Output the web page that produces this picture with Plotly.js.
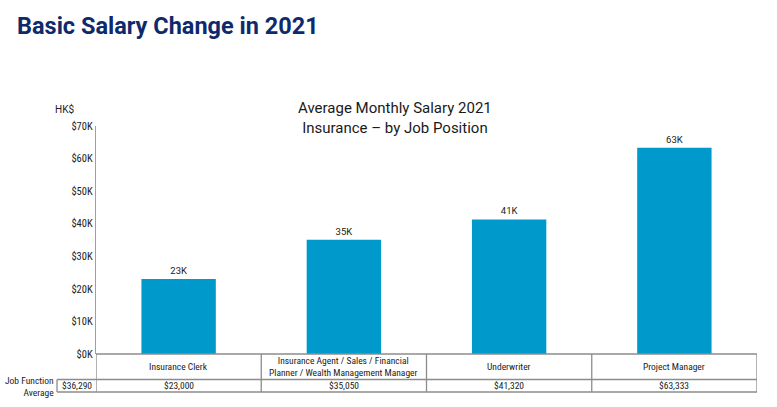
<!DOCTYPE html>
<html>
<head>
<meta charset="utf-8">
<script src="https://cdn.plot.ly/plotly-3.0.1.min.js"></script>
<style>
  html, body { margin: 0; padding: 0; background: #ffffff; }
  #chart { width: 777px; height: 407px; }
</style>
</head>
<body>
<div id="chart"></div>
<script>
// ---- data ----
const categories = [
  "Insurance Clerk",
  "Insurance Agent / Sales / Financial<br>Planner / Wealth Management Manager",
  "Underwriter",
  "Project Manager"
];
const salaries = [23000, 35050, 41320, 63333];
const barLabels = ["23K", "35K", "41K", "63K"];
const jobFunctionAverage = 36290;
const tickVals = [0, 10000, 20000, 30000, 40000, 50000, 60000, 70000];
const tickText = ["$0K", "$10K", "$20K", "$30K", "$40K", "$50K", "$60K", "$70K"];

// ---- layout helpers ----
const L = 96, R = 20, T = 126, B = 53;
const W = 777, H = 407;
const plotW = W - L - R, plotH = H - T - B;
const pyPaper = px => (H - B - px) / plotH;       // pixel y -> paper y
const pxPaper = px => (px - L) / plotW;           // pixel x -> paper x

const fontFam = "'Liberation Sans Narrow', 'Roboto Condensed', Roboto, Arial, sans-serif";
const fmt = v => "$" + v.toLocaleString("en-US");

const xs = categories.map((c, i) => i);

const trace = {
  type: "bar",
  x: xs,
  y: salaries,
  text: barLabels,
  textposition: "outside",
  textfont: { family: "Roboto, Arial, sans-serif", size: 9.5, color: "#222" },
  cliponaxis: false,
  marker: { color: "#0099cc" },
  width: 0.45,
  hoverinfo: "skip"
};

const lineStyle = { color: "#8c8c8c", width: 1.3 };
const row1Bottom = pyPaper(379.5);
const row2Bottom = pyPaper(392);
const shapes = [];
// horizontal lines
[0, row1Bottom, row2Bottom].forEach(y => {
  shapes.push({ type: "line", xref: "x", yref: "paper", x0: -0.5, x1: 3.5, y0: y, y1: y, line: lineStyle });
});
// vertical lines
for (let k = 0; k <= categories.length; k++) {
  shapes.push({ type: "line", xref: "x", yref: "paper", x0: k - 0.5, x1: k - 0.5, y0: 0, y1: row2Bottom, line: lineStyle });
}
// left cell for average
const leftX = pxPaper(57);
shapes.push({ type: "line", xref: "paper", yref: "paper", x0: leftX, x1: 0, y0: row1Bottom, y1: row1Bottom, line: lineStyle });
shapes.push({ type: "line", xref: "paper", yref: "paper", x0: leftX, x1: 0, y0: row2Bottom, y1: row2Bottom, line: lineStyle });
shapes.push({ type: "line", xref: "paper", yref: "paper", x0: leftX, x1: leftX, y0: row1Bottom, y1: row2Bottom, line: lineStyle });

const tblFont = { family: fontFam, size: 9.5, color: "#222" };
const annotations = [];
categories.forEach((c, i) => {
  annotations.push({ xref: "x", yref: "paper", x: i, y: (0 + row1Bottom) / 2, text: c, showarrow: false,
    font: tblFont, xanchor: "center", yanchor: "middle" });
  annotations.push({ xref: "x", yref: "paper", x: i, y: (row1Bottom + row2Bottom) / 2, text: fmt(salaries[i]), showarrow: false,
    font: tblFont, xanchor: "center", yanchor: "middle" });
});
annotations.push({ xref: "paper", yref: "paper", x: (leftX + 0) / 2, y: (row1Bottom + row2Bottom) / 2,
  text: fmt(jobFunctionAverage), showarrow: false, font: tblFont, xanchor: "center", yanchor: "middle" });
annotations.push({ xref: "paper", yref: "paper", x: leftX - 0.002, y: pyPaper(386.5),
  text: "Job Function<br>Average", showarrow: false, font: tblFont, xanchor: "right", yanchor: "middle", align: "right" });
// unit label
annotations.push({ xref: "paper", yref: "paper", x: pxPaper(76), y: pyPaper(109),
  text: "HK$", showarrow: false, font: { family: "Roboto, Arial, sans-serif", size: 10, color: "#222" }, xanchor: "right", yanchor: "middle" });
// chart subtitle
annotations.push({ xref: "paper", yref: "paper", x: pxPaper(395), y: pyPaper(118.5),
  text: "Average Monthly Salary 2021<br>Insurance \u2013 by Job Position", showarrow: false,
  font: { family: "Roboto, Arial, sans-serif", size: 15, color: "#1a1a1a" }, xanchor: "center", yanchor: "middle", align: "center" });

const layout = {
  width: W, height: H,
  margin: { l: L, r: R, t: T, b: B },
  paper_bgcolor: "#ffffff",
  plot_bgcolor: "#ffffff",
  showlegend: false,
  title: {
    text: "<b>Basic Salary Change in 2021</b>",
    font: { family: "Roboto, Arial, sans-serif", size: 23.5, color: "#0f2a6b" },
    xref: "container", yref: "container", x: 17 / W, xanchor: "left", y: 1 - 26 / H, yanchor: "middle"
  },
  xaxis: {
    range: [-0.5, 3.5], showticklabels: false, showgrid: false, zeroline: false,
    showline: false, ticks: "", fixedrange: true
  },
  yaxis: {
    range: [0, 70000], tickvals: tickVals, ticktext: tickText, showgrid: false, zeroline: false,
    showline: true, linecolor: "#a0a0a0", linewidth: 1.2, ticks: "",
    tickfont: { family: fontFam, size: 10.5, color: "#222" }, fixedrange: true
  },
  shapes: shapes,
  annotations: annotations
};

Plotly.newPlot("chart", [trace], layout, { displayModeBar: false, staticPlot: true });
</script>
</body>
</html>
